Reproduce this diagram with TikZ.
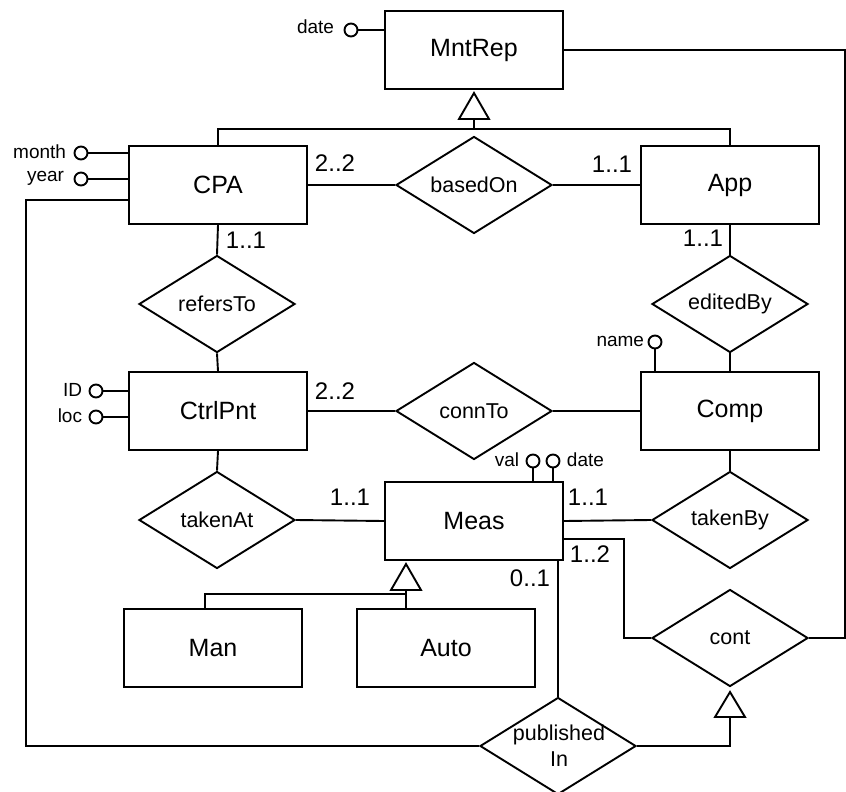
\documentclass[tikz,border=0pt]{standalone}
\usepackage{fontspec}
\setmainfont{Liberation Sans}
\usetikzlibrary{shapes.geometric,calc}
\begin{document}
\begin{tikzpicture}[x=1pt,y=-1pt,line width=1.9pt,
 ent/.style={draw,rectangle,minimum width=178pt,minimum height=78pt,inner sep=0pt,font=\fontsize{25}{30}\selectfont},
 rel/.style={draw,diamond,aspect=1.6,minimum width=156pt,minimum height=97pt,inner sep=0pt,font=\fontsize{21.5}{26}\selectfont},
 reltxt/.style={font=\fontsize{21.5}{26}\selectfont,inner sep=0pt,align=center},
 card/.style={font=\fontsize{24}{28}\selectfont,inner sep=0pt},
 attr/.style={draw,circle,minimum size=13pt,inner sep=0pt},
 alab/.style={font=\fontsize{19}{22}\selectfont,inner sep=0pt},
]
\useasboundingbox (0,0) rectangle (846,792);

% entities
\node[ent] (MntRep) at (474,50) {MntRep};
\node[ent] (CPA) at (218,185) {CPA};
\node[ent] (App) at (730,185) {App};
\node[ent] (CtrlPnt) at (218,411) {CtrlPnt};
\node[ent] (Comp) at (730,411) {Comp};
\node[ent] (Meas) at (474,521) {Meas};
\node[ent] (Man) at (213,648) {Man};
\node[ent] (Auto) at (446,648) {Auto};

% relationships
\node[rel] (basedOn) at (474,185) {basedOn};
\node[rel] (refersTo) at (217,304) {refersTo};
\node[rel] (editedBy) at (730,304) {editedBy};
\node[rel] (connTo) at (474,411) {connTo};
\node[rel] (takenAt) at (217,520) {takenAt};
\node[rel] (takenBy) at (730,520) {takenBy};
\node[rel] (cont) at (730,638) {cont};
\node[rel] (pub) at (558,746) {};
\node[reltxt] (pubtxt) at (559,746) {published\\In};

% attributes
\node[attr] (adate) at (351,30) {};
\node[alab,anchor=east] (ldate) at (335,27) {date};
\draw (adate) -- (adate -| MntRep.west);
\node[attr] (amonth) at (81,153) {};
\node[alab,anchor=east] (lmonth) at (67,152) {month};
\draw (amonth) -- (amonth -| CPA.west);
\node[attr] (ayear) at (81,179) {};
\node[alab,anchor=east] (lyear) at (65,178) {year};
\draw (ayear) -- (ayear -| CPA.west);
\node[attr] (aID) at (96,391) {};
\node[alab,anchor=east] (lID) at (83,390) {ID};
\draw (aID) -- (aID -| CtrlPnt.west);
\node[attr] (aloc) at (96,417) {};
\node[alab,anchor=east] (lloc) at (83,416) {loc};
\draw (aloc) -- (aloc -| CtrlPnt.west);
\node[attr] (aname) at (655,342) {};
\node[alab,anchor=east] (lname) at (645,341) {name};
\draw (aname) -- (aname |- Comp.north);
\node[attr] (aval) at (533,461) {};
\node[alab,anchor=east] (lval) at (520,460) {val};
\draw (aval) -- (aval |- Meas.north);
\node[attr] (amdate) at (553,461) {};
\node[alab,anchor=west] (lmdate) at (566,460) {date};
\draw (amdate) -- (amdate |- Meas.north);

% connectors
\draw (CPA.east) -- (basedOn.west);
\draw (basedOn.east) -- (App.west);
\draw (CPA.south) -- (refersTo.north);
\draw (refersTo.south) -- (CtrlPnt.north);
\draw (App.south) -- (editedBy.north);
\draw (editedBy.south) -- (Comp.north);
\draw (CtrlPnt.east) -- (connTo.west);
\draw (connTo.east) -- (Comp.west);
\draw (CtrlPnt.south) -- (takenAt.north);
\draw (takenAt.east) -- (Meas.west);
\draw (Meas.east) -- (takenBy.west);
\draw (Comp.south) -- (takenBy.north);
\coordinate (mc) at (624,539);
\draw ($(Meas.east)+(0,18)$) -- (mc) |- (cont.west);
\draw (Meas.south -| pub.north) -- (pub.north);
\coordinate (rc) at (845,638);
\draw (MntRep.east) -| (rc) -- (cont.east);
\coordinate (lc) at (26,746);
\draw ($(CPA.west)+(0,15)$) -| (lc) -- (pub.west);

% cardinalities
\node[card] (c1) at (335,163) {2..2};
\node[card] (c2) at (612,164) {1..1};
\node[card] (c3) at (246,240) {1..1};
\node[card] (c4) at (703,238) {1..1};
\node[card] (c5) at (335,391) {2..2};
\node[card] (c6) at (350,497) {1..1};
\node[card] (c7) at (588,497) {1..1};
\node[card] (c8) at (590,554) {1..2};
\node[card] (c9) at (530,578) {0..1};

% generalization: MntRep
\coordinate (t1) at (474,93);
\coordinate (t1b) at (474,119);
\coordinate (h1) at (474,129);
\draw[line join=miter] (t1) -- (459,119) -- (489,119) -- cycle;
\draw (t1b) -- (h1);
\draw (CPA.north) |- (h1) -| (App.north);

% generalization: Meas
\coordinate (t2) at (406,564);
\coordinate (t2b) at (406,590);
\coordinate (h2) at (406,594);
\draw[line join=miter] (t2) -- (391,590) -- (421,590) -- cycle;
\draw (t2b) -- (t2b |- Auto.north);
\draw (h2) -- (205,594) -- (205,609);

% generalization: cont
\coordinate (t3) at (730,692);
\coordinate (t3b) at (730,717);
\draw[line join=miter] (t3) -- (715,717) -- (745,717) -- cycle;
\draw (t3b) |- (pub.east);
\end{tikzpicture}
\end{document}
